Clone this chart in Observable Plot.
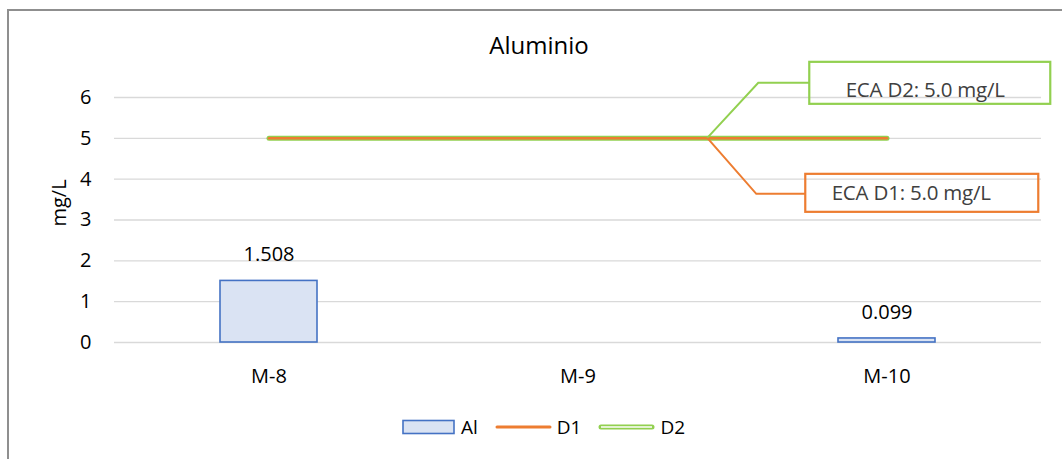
<!DOCTYPE html>
<html>
<head>
<meta charset="utf-8">
<script src="https://cdn.jsdelivr.net/npm/d3@7"></script>
<script src="https://cdn.jsdelivr.net/npm/@observablehq/plot@0.6"></script>
<style>
  body { margin: 0; background: #fff; font-family: "Open Sans", sans-serif; }
  #wrap { position: relative; width: 1062px; height: 459px; overflow: hidden; background: #fff; }
  #frame { position: absolute; left: 7px; top: 9px; width: 1200px; height: 600px;
           border-left: 2px solid #8f8f8f; border-top: 2px solid #8f8f8f; box-sizing: border-box; }
  #chart { position: absolute; left: 0; top: 0; }
  #title { position: absolute; left: 0; top: 31px; width: 1078px; text-align: center;
           font-size: 24px; line-height: 28px; color: #000; }
  #legend { position: absolute; left: 402px; top: 415px; display: flex; align-items: center;
            font-size: 19px; line-height: 24px; color: #000; }
  #legend .item { display: flex; align-items: center; margin-right: 17px; }
  #legend svg { margin-right: 5px; display: block; }
</style>
</head>
<body>
<div id="wrap">
  <div id="frame"></div>
  <div id="chart"></div>
  <div id="title"></div>
  <div id="legend"></div>
</div>
<script>
// ---- data ----
const chartTitle = "Aluminio";
const yLabel = "mg/L";
const categories = ["M-8", "M-9", "M-10"];
const alValues = [1.508, null, 0.099];
const d1Values = [5.0, 5.0, 5.0];
const d2Values = [5.0, 5.0, 5.0];
const yTicks = [0, 1, 2, 3, 4, 5, 6];
const seriesNames = ["Al", "D1", "D2"];
const annotationLabels = ["ECA D2: 5.0 mg/L", "ECA D1: 5.0 mg/L"];
const annotationValues = [5.0, 5.0];

// ---- colours ----
const barFill = "#dae3f3", barStroke = "#4472c4";
const d1Color = "#ed7d31", d2Color = "#92d050";

const rows = categories.map((c, i) => ({cat: c, al: alValues[i], d1: d1Values[i], d2: d2Values[i]}));
const barRows = rows.filter(d => d.al != null);

// callout mark: drawn through the plot's own scales
function callouts(index, scales, values, dims) {
  const xs = scales.scales.x, ys = scales.scales.y;
  const step = xs.step, bw = xs.bandwidth;
  const r0 = xs.range[0], r1 = xs.range[1];
  const start = r0 + (r1 - r0 - step * (categories.length - xs.paddingInner)) * 0.5;
  const center = cat => start + categories.indexOf(cat) * step + bw / 2;
  const ax = center("M-9") + 0.42 * step;
  const g = d3.create("svg:g");
  const specs = [
    {label: annotationLabels[0], v: annotationValues[0], color: d2Color, ex: 51, ey: -55, bx: 102, by: -76, bw: 241, bh: 42, tx: 218, ty: -48},
    {label: annotationLabels[1], v: annotationValues[1], color: d1Color, ex: 49, ey: 56, bx: 98, by: 36, bw: 233, bh: 38, tx: 204, ty: 55}
  ];
  for (const s of specs) {
    const ay = ys.apply(s.v);
    g.append("path")
      .attr("d", `M${ax},${ay}L${ax + s.ex},${ay + s.ey}L${ax + s.bx},${ay + s.ey}`)
      .attr("fill", "none").attr("stroke", s.color).attr("stroke-width", 2);
    g.append("rect")
      .attr("x", ax + s.bx).attr("y", ay + s.by).attr("width", s.bw).attr("height", s.bh)
      .attr("fill", "none").attr("stroke", s.color).attr("stroke-width", 2.2);
    g.append("text")
      .attr("x", ax + s.tx).attr("y", ay + s.ty).attr("dy", "0.35em")
      .attr("text-anchor", "middle").attr("fill", "#404040")
      .attr("font-size", 20.5).attr("letter-spacing", "-0.2px")
      .text(s.label);
  }
  return g.node();
}

const plot = Plot.plot({
  width: 1062, height: 459,
  marginLeft: 114, marginRight: 21, marginTop: 97, marginBottom: 117,
  style: {fontFamily: "Open Sans", fontSize: "20px", color: "#000", background: "transparent", overflow: "visible"},
  x: {domain: categories, paddingInner: 0.686, paddingOuter: 0.343, label: null},
  y: {domain: [0, 6], ticks: yTicks, label: null},
  marks: [
    Plot.gridY(yTicks, {stroke: "#d9d9d9", strokeOpacity: 1, strokeWidth: 1.3}),
    Plot.axisY(yTicks, {tickSize: 0, tickPadding: 23, label: null, fill: "#000"}),
    Plot.axisX({tickSize: 0, tickPadding: 26, label: null, fill: "#000"}),
    Plot.text([yLabel], {frameAnchor: "left", rotate: -90, dx: -55, dy: 6.5, fontSize: 20, fill: "#000"}),
    Plot.barY(barRows, {x: "cat", y: "al", fill: barFill, stroke: barStroke, strokeWidth: 1.6}),
    Plot.text(barRows, {x: "cat", y: "al", text: d => d.al.toFixed(3), dy: -26, fontSize: 20, fill: "#000"}),
    Plot.line(rows, {x: "cat", y: "d2", stroke: d2Color, strokeWidth: 5, strokeLinecap: "round"}),
    Plot.line(rows, {x: "cat", y: "d2", stroke: "#ffffff", strokeWidth: 1.4}),
    Plot.line(rows, {x: "cat", y: "d1", stroke: d1Color, strokeWidth: 2.5}),
    callouts
  ]
});
document.getElementById("chart").appendChild(plot);
document.getElementById("title").textContent = chartTitle;

// legend
const legend = d3.select("#legend");
seriesNames.forEach((name, i) => {
  const item = legend.append("div").attr("class", "item");
  const sw = item.append("svg").attr("width", i === 0 ? 54 : 57).attr("height", 16);
  if (i === 0) {
    sw.append("rect").attr("x", 1).attr("y", 1.5).attr("width", 51).attr("height", 13)
      .attr("fill", barFill).attr("stroke", barStroke).attr("stroke-width", 1.6);
  } else if (i === 1) {
    sw.append("line").attr("x1", 2).attr("x2", 55).attr("y1", 8).attr("y2", 8)
      .attr("stroke", d1Color).attr("stroke-width", 3).attr("stroke-linecap", "round");
  } else {
    sw.append("line").attr("x1", 3).attr("x2", 54).attr("y1", 8).attr("y2", 8)
      .attr("stroke", d2Color).attr("stroke-width", 5).attr("stroke-linecap", "round");
    sw.append("line").attr("x1", 3).attr("x2", 54).attr("y1", 8).attr("y2", 8)
      .attr("stroke", "#fff").attr("stroke-width", 1.6);
  }
  item.append("span").text(name);
});
</script>
</body>
</html>
